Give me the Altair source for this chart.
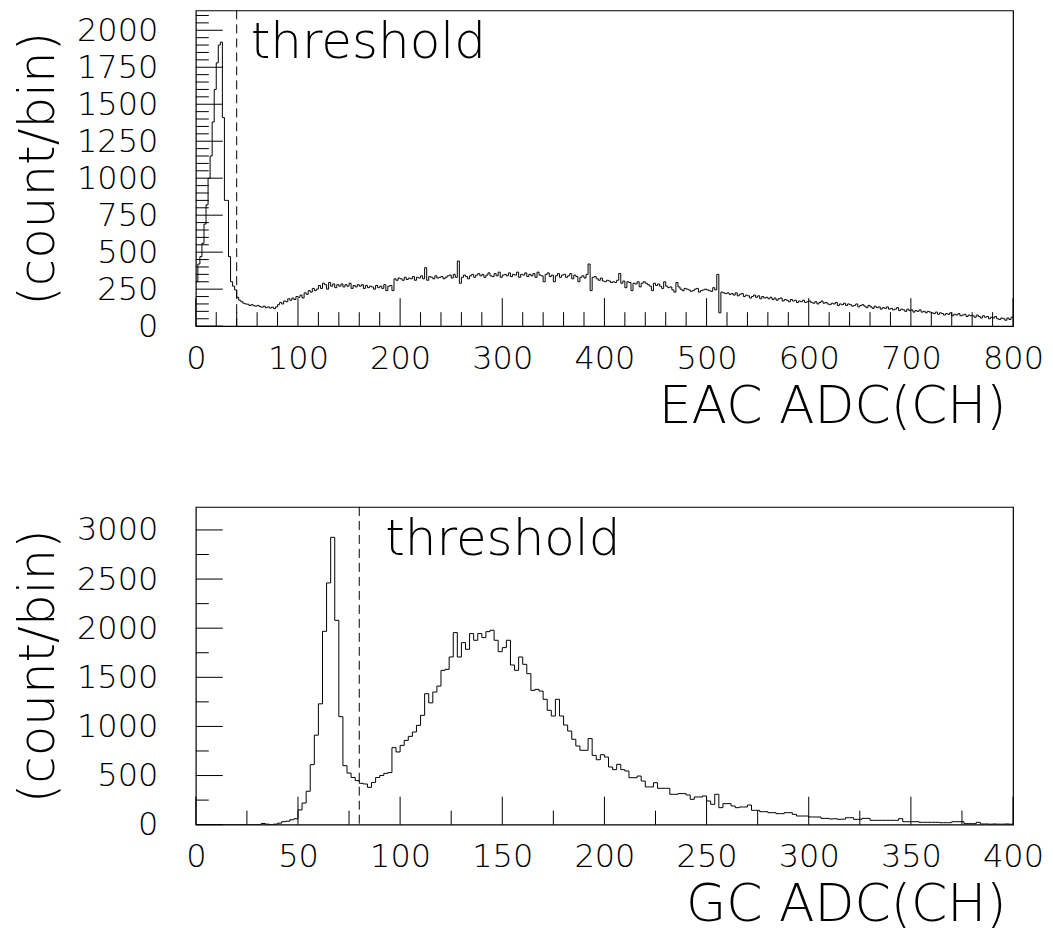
import altair as alt
import pandas as pd

# ---------------- data ----------------
EAC_BIN_WIDTH = 2
EAC_XMAX = 800
EAC_YMAX = 2134
EAC_THRESHOLD = 40
EAC_COUNTS = [
    300, 420, 470, 560, 690, 820, 1000, 1150, 1380, 1600, 1780, 1900, 1920, 1410, 850, 850, 470, 300, 270, 245,
    195, 175, 165, 155, 150, 148, 140, 145, 138, 135, 140, 132, 128, 135, 125, 130, 122, 128, 118, 130,
    145, 160, 150, 170, 165, 185, 175, 190, 180, 200, 195, 210, 190, 225, 215, 240, 230, 255, 240, 250,
    275, 255, 290, 280, 250, 295, 270, 285, 260, 280, 270, 285, 265, 280, 270, 290, 255, 275, 265, 280,
    270, 280, 255, 275, 260, 270, 265, 250, 275, 260, 270, 255, 280, 240, 270, 275, 240, 320, 310, 325,
    320, 310, 330, 315, 325, 320, 335, 310, 330, 325, 340, 320, 395, 310, 335, 330, 320, 340, 325, 330,
    335, 320, 330, 340, 345, 325, 350, 330, 440, 290, 330, 345, 335, 320, 340, 350, 330, 345, 355, 340,
    350, 330, 345, 360, 340, 335, 355, 340, 365, 330, 345, 350, 340, 360, 335, 350, 345, 365, 330, 350,
    345, 360, 335, 350, 340, 355, 330, 365, 345, 340, 300, 350, 360, 335, 345, 300, 340, 355, 330, 345,
    350, 330, 340, 355, 320, 345, 335, 300, 330, 340, 325, 350, 420, 240, 330, 335, 320, 310, 325, 305,
    300, 310, 305, 295, 300, 295, 310, 356, 290, 305, 260, 300, 295, 240, 290, 285, 300, 265, 290, 300,
    290, 280, 270, 240, 290, 275, 285, 270, 255, 300, 270, 260, 265, 245, 230, 295, 265, 250, 240, 255,
    250, 245, 235, 240, 250, 255, 230, 240, 245, 250, 245, 240, 235, 260, 245, 350, 90, 230, 225, 220,
    225, 215, 220, 210, 225, 205, 215, 220, 200, 210, 205, 190, 200, 210, 195, 205, 185, 200, 190, 195,
    185, 195, 180, 190, 175, 185, 190, 170, 180, 175, 165, 180, 170, 175, 160, 170, 165, 175, 160, 165,
    170, 160, 155, 165, 150, 160, 170, 155, 160, 150, 145, 155, 150, 160, 140, 150, 145, 155, 140, 150,
    145, 135, 140, 150, 130, 140, 145, 135, 125, 140, 130, 120, 135, 125, 130, 115, 125, 120, 130, 115,
    120, 110, 115, 125, 105, 115, 110, 100, 115, 105, 110, 95, 105, 100, 110, 95, 100, 90, 100, 95,
    90, 85, 95, 80, 90, 85, 75, 85, 80, 90, 70, 80, 75, 85, 70, 75, 80, 65, 75, 70,
    70, 60, 75, 65, 55, 70, 60, 65, 50, 60, 55, 65, 50, 45, 55, 50, 40, 55, 45, 60,
]

GC_BIN_WIDTH = 2
GC_XMAX = 400
GC_YMAX = 3234
GC_THRESHOLD = 80
GC_COUNTS = [
    0, 0, 0, 0, 0, 0, 0, 0, 0, 0, 0, 0, 0, 0, 0, 0, 12, 5, 0, 5,
    15, 30, 35, 50, 60, 150, 220, 340, 611, 911, 1230, 1968, 2461, 2925, 2080, 1099, 600, 525, 480, 448,
    421, 414, 380, 430, 480, 500, 522, 530, 784, 740, 807, 858, 899, 943, 1011, 1113, 1333, 1240, 1350, 1411,
    1571, 1581, 1707, 1955, 1707, 1853, 1785, 1945, 1877, 1945, 1904, 1965, 1979, 1877, 1761, 1802, 1877, 1625, 1571, 1707,
    1632, 1537, 1367, 1377, 1360, 1276, 1164, 1106, 1276, 1106, 1014, 953, 869, 801, 757, 757, 876, 705, 661, 712,
    688, 587, 560, 614, 560, 546, 478, 478, 495, 444, 384, 384, 427, 370, 370, 370, 309, 309, 316, 316,
    302, 258, 282, 282, 292, 241, 207, 309, 173, 214, 214, 190, 173, 180, 180, 200, 146, 146, 132, 132,
    122, 122, 112, 112, 122, 122, 105, 88, 88, 88, 78, 78, 78, 64, 64, 58, 60, 54, 56, 71,
    71, 54, 54, 64, 64, 44, 44, 44, 44, 44, 44, 44, 61, 30, 30, 30, 30, 24, 24, 24,
    24, 24, 20, 20, 20, 30, 30, 30, 10, 10, 10, 24, 7, 7, 5, 7, 5, 5, 7, 5,
]

EAC_X_MAJOR = [0, 100, 200, 300, 400, 500, 600, 700, 800]
EAC_X_MINOR = [v for v in range(0, 801, 20) if v % 100 != 0]
EAC_Y_MAJOR = [0, 250, 500, 750, 1000, 1250, 1500, 1750, 2000]
EAC_Y_MINOR = [v for v in range(0, 2134, 50) if v % 250 != 0]

GC_X_MAJOR = [0, 50, 100, 150, 200, 250, 300, 350, 400]
GC_X_MINOR = [v for v in range(0, 401, 25) if v % 50 != 0]
GC_Y_MAJOR = [0, 500, 1000, 1500, 2000, 2500, 3000]
GC_Y_MINOR = [v for v in range(0, 3234, 250) if v % 500 != 0]

FONT = "DejaVu Sans"
WEIGHT = 200


def hist_df(counts, width):
    x = [i * width for i in range(len(counts) + 1)]
    y = list(counts) + [counts[-1]]
    return pd.DataFrame({"x": x, "y": y})


def panel(counts, width, xmax, ymax, thr, xmaj, xmin, ymaj, ymin, xtitle, W, H, text_dx):
    xs = alt.Scale(domain=[0, xmax], nice=False, zero=False)
    ys = alt.Scale(domain=[0, ymax], nice=False, zero=False)

    xaxis = alt.Axis(
        values=xmaj, format="d", title=xtitle, ticks=False, tickSize=0, domain=False, grid=False,
        labelFontSize=32, labelPadding=17, labelFont=FONT, labelFontWeight=WEIGHT,
        labelColor="black", labelFlush=False, labelOverlap=False,
        titleFontSize=52, titleFont=FONT, titleFontWeight=WEIGHT, titleColor="black",
        titleAlign="right", titleAnchor="end", titleX=W - 7, titleY=55, titleBaseline="top",
    )
    yaxis = alt.Axis(
        values=ymaj, format="d", title="(count/bin)", ticks=False, tickSize=0, domain=False, grid=False,
        labelFontSize=32, labelPadding=38, labelFont=FONT, labelFontWeight=WEIGHT,
        labelColor="black", labelFlush=False, labelOverlap=False,
        titleFontSize=50, titleFont=FONT, titleFontWeight=WEIGHT, titleColor="black",
        titleX=-157, titleY=H / 2, titleBaseline="middle", titleAlign="center",
    )

    hist = alt.Chart(hist_df(counts, width)).mark_line(
        interpolate="step-after", color="black", strokeWidth=1, clip=True
    ).encode(
        x=alt.X("x:Q", scale=xs, axis=xaxis),
        y=alt.Y("y:Q", scale=ys, axis=yaxis),
    )

    thr_df = pd.DataFrame({"x": [thr], "label": ["threshold"]})
    thr_rule = alt.Chart(thr_df).mark_rule(color="black", strokeWidth=1, strokeDash=[9, 5]).encode(
        x=alt.X("x:Q", scale=xs, axis=xaxis)
    )
    thr_text = alt.Chart(thr_df).mark_text(
        align="left", baseline="alphabetic", dx=text_dx, fontSize=50, font=FONT,
        fontWeight=WEIGHT, color="black"
    ).encode(x=alt.X("x:Q", scale=xs, axis=xaxis), y=alt.value(48), text="label:N")

    def xticks(vals, length):
        return alt.Chart(pd.DataFrame({"x": vals})).mark_rule(color="black", strokeWidth=1).encode(
            x=alt.X("x:Q", scale=xs, axis=xaxis), y=alt.value(H), y2=alt.value(H - length)
        )

    def yticks(vals, length):
        return alt.Chart(pd.DataFrame({"y": vals})).mark_rule(color="black", strokeWidth=1).encode(
            y=alt.Y("y:Q", scale=ys, axis=yaxis), x=alt.value(0), x2=alt.value(length)
        )

    return alt.layer(
        hist, thr_rule, thr_text,
        xticks(xmaj, 28), xticks(xmin, 14),
        yticks(ymaj, 27), yticks(ymin, 13),
    ).properties(width=W, height=H)


top = panel(EAC_COUNTS, EAC_BIN_WIDTH, EAC_XMAX, EAC_YMAX, EAC_THRESHOLD,
            EAC_X_MAJOR, EAC_X_MINOR, EAC_Y_MAJOR, EAC_Y_MINOR, "EAC ADC(CH)", 818, 316, 14)
bottom = panel(GC_COUNTS, GC_BIN_WIDTH, GC_XMAX, GC_YMAX, GC_THRESHOLD,
               GC_X_MAJOR, GC_X_MINOR, GC_Y_MAJOR, GC_Y_MINOR, "GC ADC(CH)", 818, 318, 26)

chart = alt.vconcat(top, bottom, spacing=72).properties(
    padding={"left": 5, "top": 0, "right": 0, "bottom": 0},
    background="white",
).configure_view(stroke="black", strokeWidth=1.2)

chart.save("out.html", embed_options={"renderer": "svg", "actions": False})
